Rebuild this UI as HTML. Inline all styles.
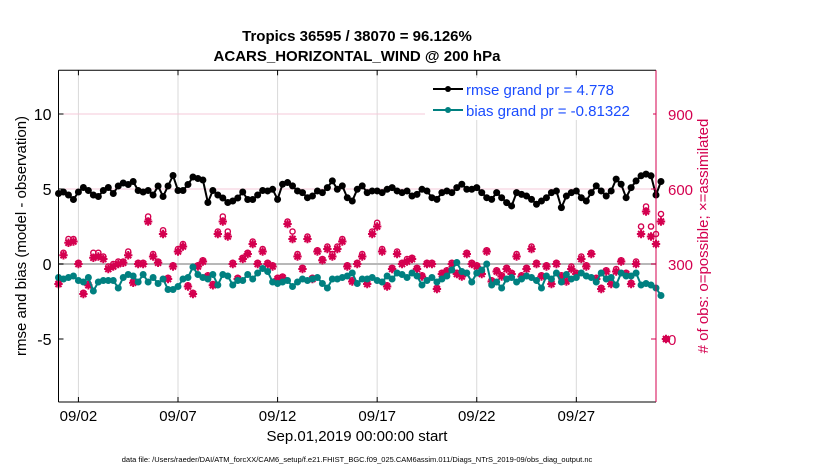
<!DOCTYPE html>
<html><head><meta charset="utf-8">
<style>
body{margin:0;background:#fff;}
svg{display:block;font-family:"Liberation Sans",sans-serif;}
</style></head>
<body>
<svg id="chart" width="830" height="470">
  <text x="357" y="41" text-anchor="middle" font-size="15" font-weight="bold">Tropics 36595 / 38070 = 96.126%</text>
  <text x="357" y="61" text-anchor="middle" font-size="15" font-weight="bold">ACARS_HORIZONTAL_WIND @ 200 hPa</text>
  <g id="grid"></g>
  <g id="marks"></g>
  <g id="axes"></g>
  <text transform="translate(26,236) rotate(-90)" text-anchor="middle" font-size="15">rmse and bias (model - observation)</text>
  <text transform="translate(708,236) rotate(-90)" text-anchor="middle" font-size="15" fill="#d4004f"># of obs: o=possible; ×=assimilated</text>
  <text x="357" y="441" text-anchor="middle" font-size="15">Sep.01,2019 00:00:00 start</text>
  <text x="357" y="462" text-anchor="middle" font-size="7.5">data file: /Users/raeder/DAI/ATM_forcXX/CAM6_setup/f.e21.FHIST_BGC.f09_025.CAM6assim.011/Diags_NTrS_2019-09/obs_diag_output.nc</text>
  <g>
    <rect x="425" y="78" width="228" height="42" fill="#fff"/>
    <line x1="433" y1="89" x2="463" y2="89" stroke="#000" stroke-width="2"/>
    <circle cx="448" cy="89" r="3" fill="#000"/>
    <text x="466" y="95" font-size="15" fill="#1a4cff">rmse grand pr = 4.778</text>
    <line x1="433" y1="110" x2="463" y2="110" stroke="#008080" stroke-width="2"/>
    <circle cx="448" cy="110" r="3" fill="#008080"/>
    <text x="466" y="116" font-size="15" fill="#1a4cff">bias grand pr = -0.81322</text>
  </g>
</svg>
<script>
const xTickLabels = ["09/02","09/07","09/12","09/17","09/22","09/27"];
const xTickDays = [1,6,11,16,21,26];
const yLeftTicks = [10,5,0,-5];
const yRightTicks = [900,600,300,0];
const rmse = [4.7,4.8,4.6,4.3,4.8,5.1,4.9,4.6,4.5,4.9,5.1,4.7,5.2,5.4,5.3,5.5,4.9,4.8,4.9,4.6,5.2,4.5,5.2,5.9,4.9,4.9,5.3,5.8,5.7,5.6,4.1,4.9,4.6,4.4,4.1,4.2,4.4,4.8,4.3,4.3,4.6,4.9,
4.87,4.98,4.31,5.32,5.43,5.21,4.87,4.76,4.42,4.53,4.87,4.76,5.09,5.54,4.98,5.21,4.42,4.2,4.98,5.21,4.76,4.87,4.87,4.76,4.98,5.09,4.87,4.76,4.87,4.53,4.64,4.98,4.87,4.42,4.31,4.76,4.87,4.76,5.09,5.32,4.98,4.98,
5.09,4.76,4.42,4.31,4.76,4.42,4.09,3.87,4.76,4.64,4.53,4.31,3.98,4.2,4.42,4.76,4.87,3.76,4.53,4.76,4.87,4.42,4.2,4.76,5.21,4.87,4.53,4.87,5.66,5.32,4.42,5.09,5.54,5.88,5.99,5.88,4.6,5.5];
const bias = [-0.9,-1.0,-0.9,-0.8,-1.1,-1.2,-0.9,-1.8,-1.2,-1.1,-1.1,-1.1,-1.6,-0.9,-0.7,-0.8,-1.2,-0.7,-1.2,-0.9,-1.3,-1.0,-1.7,-1.7,-1.5,-1.0,-0.9,-0.2,-0.7,-0.9,-1.0,-0.7,-1.4,-0.7,-0.8,-1.4,-1.1,-1.1,-0.7,-1.0,-0.6,-0.3,
-0.5,-1.2,-1.3,-1.2,-1.1,-1.5,-1.2,-1.0,-1.1,-1.0,-0.9,-1.3,-1.6,-1.0,-1.0,-0.9,-0.8,-0.6,-1.3,-1.0,-1.0,-0.9,-1.1,-1.2,-0.8,-1.0,-0.6,-0.7,-0.9,-0.6,-0.8,-1.4,-1.1,-0.9,-1.2,-1.0,-0.8,-0.4,0.1,-0.5,-0.6,-1.2,
-0.6,-0.4,0.0,-1.4,-1.2,-1.6,-1.0,-0.9,-1.2,-1.0,-0.8,-0.9,-1.1,-1.6,-0.8,-1.0,-0.6,-1.2,-0.7,-1.0,-0.9,-0.6,-0.8,-0.9,-1.2,-0.6,-1.0,-0.9,-1.4,-0.6,-0.8,-0.8,-0.6,-1.4,-1.3,-1.4,-1.6,-2.1];
const nAssim = [220,335,385,390,300,180,215,325,330,320,280,290,300,305,335,225,300,300,470,330,305,420,240,290,350,370,210,180,290,310,250,215,420,470,410,300,240,320,340,380,300,350,
300,290,240,245,460,400,330,280,400,240,350,315,360,330,360,390,290,230,300,330,220,420,450,350,210,280,340,300,310,320,280,250,300,300,200,260,270,300,260,250,340,300,
290,260,350,230,270,250,280,260,330,250,280,360,300,250,290,220,300,250,230,280,260,320,290,340,240,200,270,220,270,310,260,220,300,420,510,410,380,470,0];
const nPoss = [225,345,400,400,305,185,220,345,345,330,290,300,310,310,350,230,305,305,490,340,310,435,245,295,360,380,215,185,295,315,255,220,430,490,430,305,245,325,345,390,305,360,
305,295,245,250,470,430,340,285,410,245,355,320,370,340,370,400,295,235,305,340,225,430,465,360,215,285,350,305,320,325,285,255,305,305,205,265,275,305,265,255,345,305,
295,265,355,235,275,255,285,265,340,255,285,370,305,255,295,225,305,255,235,290,265,330,295,345,245,205,275,225,280,315,265,225,310,450,530,450,420,500,0];

const L=58.5,R=656,T=70.3,B=402;
const xS=d=>L+(d/30)*(R-L);
const yL=v=>264-15*v;
const yR=c=>339-0.25*c;
const NS="http://www.w3.org/2000/svg";
function mk(tag,attrs,parent){const e=document.createElementNS(NS,tag);for(const k in attrs)e.setAttribute(k,attrs[k]);parent.appendChild(e);return e;}
const grid=document.getElementById('grid'),marks=document.getElementById('marks'),axes=document.getElementById('axes');

xTickDays.forEach((d,i)=>{
  const g=mk('line',{x1:xS(d),x2:xS(d),y1:T,y2:B,stroke:'#d9d9d9','stroke-width':1},grid);
  
  
  const t=mk('line',{x1:xS(d),x2:xS(d),y1:B,y2:B-5,stroke:'#000'},axes);
  
  
  const tt=mk('line',{x1:xS(d),x2:xS(d),y1:T,y2:T+5,stroke:'#000'},axes);
  
  
  const lb=mk('text',{x:xS(d),y:B+19,'text-anchor':'middle','font-size':15},axes);
  lb.textContent=xTickLabels[i];
  
  
});
yRightTicks.forEach(c=>{
  if(c===900||c===600){
    const g=mk('line',{x1:L,x2:R,y1:yR(c),y2:yR(c),stroke:'#f5c8d8','stroke-width':1},grid);
    
    
  }
  const t=mk('line',{x1:R,x2:R-5,y1:yR(c),y2:yR(c),stroke:'#d4004f'},axes);
  
  
  const lb=mk('text',{x:R+12,y:yR(c)+6,'font-size':15,fill:'#d4004f'},axes);
  lb.textContent=c;
  
  
});
yLeftTicks.forEach(v=>{
  const t=mk('line',{x1:L,x2:L+5,y1:yL(v),y2:yL(v),stroke:'#000'},axes);
  
  
  const lb=mk('text',{x:L-7,y:yL(v)+6,'text-anchor':'end','font-size':16},axes);
  lb.textContent=v;
  
  
});
const zl=mk('line',{x1:L,x2:R,y1:yL(0),y2:yL(0),stroke:'#b8b8b8','stroke-width':2},grid);



const tOf=i=>i*0.25;
nPoss.forEach((c,i)=>{
  const o=mk('circle',{cx:xS(tOf(i)),cy:yR(c),r:2.6,fill:'none',stroke:'#d4004f','stroke-width':1.4},marks);
  
  
});
nAssim.forEach((c,i)=>{
  const x=xS(tOf(i)),y=yR(c),s=4.2,d=3;
  const p=`M${x-s},${y}H${x+s}M${x},${y-s}V${y+s}M${x-d},${y-d}L${x+d},${y+d}M${x-d},${y+d}L${x+d},${y-d}`;
  const m=mk('path',{d:p,stroke:'#d4004f','stroke-width':2,fill:'none'},marks);
  
  
});
function series(vals,color,name){
  const pts=vals.map((v,i)=>xS(tOf(i))+','+yL(v)).join(' ');
  const pl=mk('polyline',{points:pts,fill:'none',stroke:color,'stroke-width':2},marks);
  
  
  vals.forEach((v,i)=>{
    const c=mk('circle',{cx:xS(tOf(i)),cy:yL(v),r:3.5,fill:color},marks);
    
    
  });
}
series(bias,'#008080','bias');
series(rmse,'#000','rmse');

const lt=mk('line',{x1:L,x2:R,y1:T,y2:T,stroke:'#000'},axes);


const lb_=mk('line',{x1:L,x2:R,y1:B,y2:B,stroke:'#000'},axes);


const ll=mk('line',{x1:L,x2:L,y1:T,y2:B,stroke:'#000'},axes);


const lr=mk('line',{x1:R,x2:R,y1:T,y2:B,stroke:'#d4004f'},axes);


</script>
</body></html>
